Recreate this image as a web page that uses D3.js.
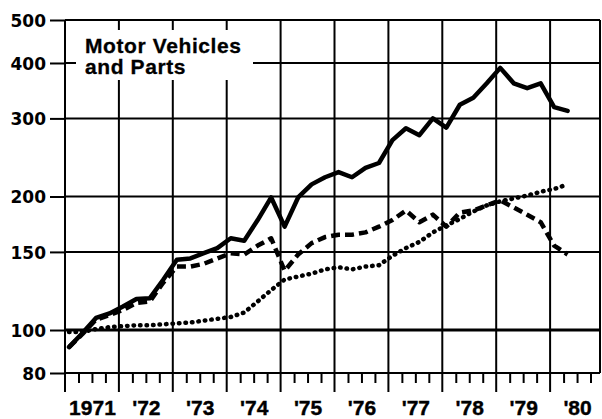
<!DOCTYPE html>
<html>
<head>
<meta charset="utf-8">
<script src="https://cdn.jsdelivr.net/npm/d3@7"></script>
<style>
  body { margin: 0; background: #fff; }
  svg { display: block; }
  .ylab text { font-family: "DejaVu Sans", sans-serif; font-weight: bold; font-size: 17px; fill: #000; }
  .xlab text { font-family: "Liberation Sans", Arial, sans-serif; font-weight: bold; font-size: 21px; fill: #000; stroke: #000; stroke-width: 0.4px; }
  .title { font-family: "Liberation Sans", Arial, sans-serif; font-weight: bold; font-size: 21px; letter-spacing: 0.6px; stroke: #000; stroke-width: 0.3px; }
</style>
</head>
<body>
<script>
var width = 602,
  height = 419;

// quarterly index values, 1971 Q1 onward
var years = [1971, 1972, 1973, 1974, 1975, 1976, 1977, 1978, 1979, 1980];
var yearLabels = ["1971", "'72", "'73", "'74", "'75", "'76", "'77", "'78", "'79", "'80"];
var yTicks = [80, 100, 150, 200, 300, 400, 500];

var solid = [91.5, 98.5, 106.5, 109,
  113, 117.5, 118, 130,
  144, 145, 149, 153,
  161, 159, 177, 199,
  171, 199, 213, 221,
  227, 221, 232, 238,
  268, 285, 275, 300,
  286, 322, 334, 360,
  390, 360, 351, 360,
  318, 312];

var dashed = [91.5, 98, 105.5, 108,
  111, 115, 116, 128,
  139, 139, 141, 145,
  149, 148, 155, 161,
  136, 148, 157, 162,
  164, 164, 166, 171,
  177, 186, 175, 182,
  171, 184, 186, 191,
  196, 189, 182, 175,
  155, 148];

var dotted = [99, 99, 100.5, 101.5,
  102, 102.5, 102.5, 103,
  103.5, 104, 105, 106,
  107, 109.5, 116, 123,
  130, 132, 134, 137,
  138.5, 137, 139, 140,
  147, 153, 158, 166,
  172, 178, 185, 191,
  195, 198, 201, 205,
  208, 213];

var plotL = 65, plotR = 600, plotT = 20, plotB = 373;

var x = d3.scaleLinear().domain([1971, 1981]).range([65, 604]);
var y = d3.scaleLog().domain([80, 500]).range([plotB, plotT]);

// quarter position inside its year
var qx = (i) => x(1971 + (i + 0.3) / 4);

var svg = d3.select("body").append("svg")
  .attr("width", width)
  .attr("height", height);

// horizontal grid
svg.append("g")
  .selectAll("line")
  .data(yTicks)
  .enter()
  .append("line")
  .attr("x1", plotL)
  .attr("x2", plotR)
  .attr("y1", (d) => y(d))
  .attr("y2", (d) => y(d))
  .attr("stroke", "#000")
  .attr("stroke-width", (d) => (d == 100 ? 3.2 : 2));

// vertical year lines (run below the axis)
svg.append("g")
  .selectAll("line")
  .data(years)
  .enter()
  .append("line")
  .attr("x1", (d) => x(d))
  .attr("x2", (d) => x(d))
  .attr("y1", plotT)
  .attr("y2", 392)
  .attr("stroke", "#000")
  .attr("stroke-width", 2);

svg.append("line")
  .attr("x1", plotR).attr("x2", plotR)
  .attr("y1", plotT).attr("y2", plotB)
  .attr("stroke", "#000").attr("stroke-width", 2);

// quarter ticks under the axis
var qTicks = [];
years.forEach((yr) => qTicks.push(yr + 0.25, yr + 0.5, yr + 0.75));
svg.append("g")
  .attr("transform", "translate(0," + plotB + ")")
  .call(d3.axisBottom(x).tickValues(qTicks).tickSize(10).tickFormat(""))
  .call((g) => g.select(".domain").remove())
  .call((g) => g.selectAll("line").attr("stroke-width", 2));

// y axis labels with stubs
svg.append("g")
  .attr("class", "ylab")
  .attr("transform", "translate(" + plotL + ",0)")
  .call(d3.axisLeft(y).tickValues(yTicks).tickSize(15).tickPadding(4).tickFormat(d3.format("d")))
  .call((g) => g.select(".domain").remove())
  .call((g) => g.selectAll("line").attr("stroke-width", 2))
  .call((g) => g.selectAll("text").attr("dy", "0.38em"));

// year labels centred in each year
svg.append("g")
  .attr("class", "xlab")
  .attr("transform", "translate(0,415)")
  .call(d3.axisBottom(x).tickValues(years.map((d) => d + 0.5)).tickSize(0).tickPadding(0)
    .tickFormat((d, i) => yearLabels[i]))
  .call((g) => g.select(".domain").remove())
  .call((g) => g.selectAll("text").attr("dy", 0));

// white box behind the title
svg.append("rect")
  .attr("x", 76).attr("y", 30)
  .attr("width", 177).attr("height", 50)
  .attr("fill", "#fff");

var title = svg.append("text").attr("class", "title").attr("x", 85);
title.append("tspan").attr("x", 85).attr("y", 53).text("Motor Vehicles");
title.append("tspan").attr("x", 85).attr("y", 74).text("and Parts");

var line = d3.line()
  .x((d, i) => qx(i))
  .y((d) => y(d));

svg.append("path")
  .datum(dotted)
  .attr("d", line)
  .attr("fill", "none")
  .attr("stroke", "#000")
  .attr("stroke-width", 4.5)
  .attr("stroke-linecap", "round")
  .attr("stroke-dasharray", "0.5,6");

svg.append("path")
  .datum(dashed)
  .attr("d", line)
  .attr("fill", "none")
  .attr("stroke", "#000")
  .attr("stroke-width", 4.5)
  .attr("stroke-linejoin", "round")
  .attr("stroke-dasharray", "9,5");

svg.append("path")
  .datum(solid)
  .attr("d", line)
  .attr("fill", "none")
  .attr("stroke", "#000")
  .attr("stroke-width", 4.5)
  .attr("stroke-linejoin", "round")
  .attr("stroke-linecap", "round");
</script>
</body>
</html>
